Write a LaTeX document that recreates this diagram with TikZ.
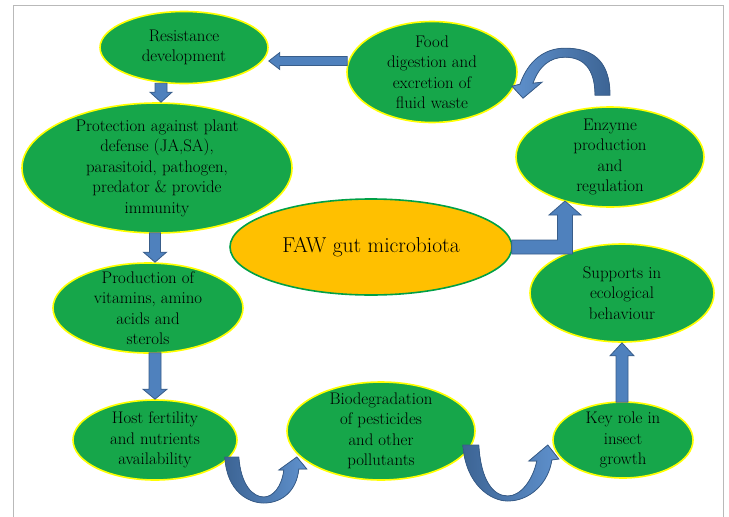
\documentclass[tikz,border=0pt]{standalone}
\usetikzlibrary{calc,shapes.geometric}
\definecolor{gfill}{RGB}{22,166,74}
\definecolor{ylw}{RGB}{255,255,0}
\definecolor{orng}{RGB}{255,192,0}
\definecolor{ogreen}{RGB}{0,160,70}
\definecolor{afill}{RGB}{79,129,189}
\definecolor{adark}{RGB}{56,93,138}
\definecolor{alight}{RGB}{95,145,205}
\definecolor{framec}{RGB}{185,185,185}
\tikzset{
 gell/.style={ellipse, draw=ylw, line width=1.6pt, fill=gfill, inner sep=0pt},
 oell/.style={ellipse, draw=ogreen, line width=1.6pt, fill=orng, inner sep=0pt},
 txt/.style={align=center, font=\fontsize{16.8}{20.5}\selectfont, inner sep=0pt, text=black},
 blk/.style={fill=afill, draw=adark, line width=0.8pt, line join=miter},
 cblkL/.style={draw=adark, line width=0.8pt, left color=adark!80!afill, right color=alight},
 cblkR/.style={draw=adark, line width=0.8pt, left color=alight, right color=adark!80!afill},
}
\newcommand\blkarr[5]{%
  \coordinate (ba-h) at ($(#2)!#5!(#1)$);
  \filldraw[blk] ($(#1)!#3!-90:(#2)$) -- ($(ba-h)!#3!-90:(#2)$) -- ($(ba-h)!#4!-90:(#2)$) -- (#2) -- ($(ba-h)!#4!90:(#2)$) -- ($(ba-h)!#3!90:(#2)$) -- ($(#1)!#3!90:(#2)$) -- cycle;
}
\begin{document}
\begin{tikzpicture}[x=1pt,y=-1pt]
\useasboundingbox (0,0) rectangle (729,517);
\draw[framec, line width=1pt] (13,517) -- (13,5) -- (723,5) -- (723,517);

% ellipses
\node[gell, minimum width=168pt, minimum height=72pt] (res) at (184,47.5) {};
\node[gell, minimum width=270pt, minimum height=130pt] (prot) at (157,168) {};
\node[gell, minimum width=190pt, minimum height=90pt] (prod) at (148,308) {};
\node[gell, minimum width=164pt, minimum height=80pt] (host) at (155,440) {};
\node[gell, minimum width=188pt, minimum height=98pt] (bio) at (381,431) {};
\node[gell, minimum width=140pt, minimum height=76pt] (key) at (623,440) {};
\node[gell, minimum width=184pt, minimum height=98pt] (sup) at (622,293) {};
\node[gell, minimum width=188pt, minimum height=100pt] (enz) at (610,157) {};
\node[gell, minimum width=170pt, minimum height=101pt] (food) at (432,72) {};
\node[oell, minimum width=282pt, minimum height=96pt] (faw) at (371,247) {};

% texts
\node[txt] (res-t) at (res) {Resistance\\development};
\node[txt] (prot-t) at (prot) {Protection against plant\\defense (JA,SA),\\parasitoid, pathogen,\\predator \& provide\\immunity};
\node[txt] (prod-t) at (prod) {Production of\\vitamins, amino\\acids and\\sterols};
\node[txt] (host-t) at (host) {Host fertility\\and nutrients\\availability};
\node[txt] (bio-t) at (bio) {Biodegradation\\of pesticides\\and other\\pollutants};
\node[txt] (key-t) at (key) {Key role in\\insect\\growth};
\node[txt] (sup-t) at (sup) {Supports in\\ecological\\behaviour};
\node[txt] (enz-t) at (enz) {Enzyme\\production\\and\\regulation};
\node[txt] (food-t) at (food) {Food\\digestion and\\excretion of\\fluid waste};
\node[txt, font=\fontsize{21.5}{26}\selectfont] (faw-t) at (faw) {FAW gut microbiota};

% straight block arrows
\coordinate (a1s) at ($(food.west)+(1,-11)$);
\coordinate (a1e) at (res.east |- a1s);
\blkarr{a1s}{a1e}{4.5pt}{8.5pt}{11pt}
\coordinate (a2s) at ($(res.south)+(-23,-1)$);
\coordinate (a2e) at (a2s |- prot.north);
\blkarr{a2s}{a2e}{6pt}{11pt}{10pt}
\coordinate (a3s) at ($(prot.south)+(-2,-1)$);
\coordinate (a3e) at (a3s |- prod.north);
\blkarr{a3s}{a3e}{5.5pt}{11.5pt}{10pt}
\coordinate (a4s) at ($(prod.south)+(7,-1)$);
\coordinate (a4e) at (a4s |- host.north);
\blkarr{a4s}{a4e}{6pt}{12pt}{10pt}
\coordinate (a5s) at ($(key.north)+(-1,1)$);
\coordinate (a5e) at (a5s |- sup.south);
\blkarr{a5s}{a5e}{6pt}{12pt}{13pt}

% bent arrow FAW -> enzyme
\coordinate (bt) at ($(enz.center)+(-45,44)$);
\filldraw[blk] let \p1=(faw.east), \p2=(bt) in
  (\x1-1pt,\y1+7pt) -- (\x2-7.5pt,\y1+7pt) -- (\x2-7.5pt,\y2-14pt) -- (\x2-16pt,\y2-14pt) -- (\x2,\y2)
  -- (\x2+16pt,\y2-14pt) -- (\x2+7.5pt,\y2-14pt) -- (\x2+7.5pt,\y1-7pt) -- (\x1-1pt,\y1-7pt) -- cycle;

% curved arrow host -> bio
\begin{scope}[shift={(host.east)}]
\filldraw[cblkL] (-13,17) .. controls (-11,52) and (11,63) .. (26,63) .. controls (45,63) and (59,50) .. (61,29)
  -- (69,29) -- (59,17) -- (41,30) -- (46,30) .. controls (44,47) and (35,57) .. (26,57)
  .. controls (15,57) and (3,45) .. (1,17) -- cycle;
\end{scope}
% curved arrow bio -> key
\begin{scope}[shift={(bio.east)}]
\filldraw[cblkL] (-13,14) .. controls (-10,54) and (15,70) .. (32,70) .. controls (55,70) and (73,51) .. (76,29)
  -- (83,28) -- (72,14) -- (53,30) -- (61,30) .. controls (57,49) and (45,65) .. (32,65)
  .. controls (17,65) and (5,49) .. (3,14) -- cycle;
\end{scope}
% curved arrow enzyme -> food
\begin{scope}[shift={(enz.north)}]
\filldraw[cblkR] (0,-11) .. controls (0,-48) and (-20,-58) .. (-45,-58) .. controls (-66,-58) and (-82,-45) .. (-90,-22)
  -- (-98,-20) -- (-87,-8) -- (-68,-24) -- (-77,-23) .. controls (-71,-40) and (-60,-49) .. (-45,-49)
  .. controls (-27,-49) and (-15,-38) .. (-15,-11) -- cycle;
\end{scope}
\end{tikzpicture}
\end{document}
